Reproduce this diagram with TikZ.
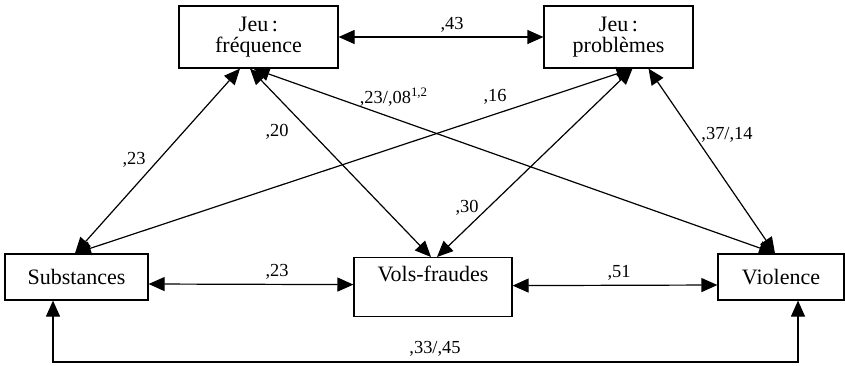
\documentclass[tikz,border=0pt]{standalone}
\usepackage{fontspec}
\setmainfont{Liberation Serif}
\usepackage{tikz}
\usetikzlibrary{arrows.meta}

\begin{document}
\begin{tikzpicture}[x=0.5pt,y=-0.5pt,
    box/.style={draw,line width=0.6pt,align=center,inner sep=0pt,
        font=\fontsize{11}{10.5}\selectfont},
    coef/.style={inner sep=0pt,font=\fontsize{9.2}{10}\selectfont}]
            \useasboundingbox (0,0) rectangle (845,365);

            % variables
            \node[box,minimum width=79.5pt,minimum height=31pt] (freq) at (258.5,37) {Jeu\,:\\fréquence};
            \node[box,minimum width=74.5pt,minimum height=31pt] (prob) at (618.5,37) {Jeu\,:\\problèmes};
            \node[box,minimum width=71.5pt,minimum height=23pt] (subst) at (76.5,277) {Substances};
            \node[box,minimum width=79pt,anchor=north,inner ysep=4pt,
                text height=8pt,text depth=13.5pt] (vols) at (433,257) {Vols-fraudes};
            \node[box,minimum width=63pt,minimum height=23pt] (viol) at (781,277) {Violence};
            \coordinate (bas) at (435,362);

            % correlations
            \node[coef] (c43) at (452,25) {,43};
            \node[coef] (c2308) at (394,97) {,23/,08\textsuperscript{1,2}};
            \node[coef] (c16) at (495,97) {,16};
            \node[coef] (c23a) at (134,160) {,23};
            \node[coef] (c20) at (277,132) {,20};
            \node[coef] (c23b) at (277,272) {,23};
            \node[coef] (c30) at (467,208) {,30};
            \node[coef] (c51) at (619,273) {,51};
            \node[coef] (c3714) at (727,135) {,37/,14};
            \node[coef] (c3345) at (435,349) {,33/,45};

            \begin{scope}[line width=0.6pt,
                {Triangle[length=8pt,width=7pt]}-{Triangle[length=8pt,width=7pt]}]
                \draw (freq.east) -- (prob.west);
                \draw ([yshift=-3.5pt]subst.east) -- ([yshift=1.25pt]vols.west);
                \draw ([yshift=0.75pt]vols.east) -- ([yshift=-4pt]viol.west);
                \draw ([xshift=-11.75pt]subst.south) |- (bas) -| ([xshift=8.5pt]viol.south);

                \draw ([xshift=-9.25pt]freq.south) -- ([xshift=-0.75pt]subst.north);
                \draw ([xshift=-4.25pt]freq.south) -- ([xshift=-1pt]vols.north);
                \draw ([xshift=-2.5pt]freq.south) -- ([xshift=-3pt]viol.north);
                \draw ([xshift=7pt]prob.south) -- ([xshift=-0.75pt]subst.north);
                \draw ([xshift=7pt]prob.south) -- ([xshift=2pt]vols.north);
                \draw ([xshift=15pt]prob.south) -- ([xshift=-3pt]viol.north);
            \end{scope}

        \end{tikzpicture}
\end{document}
